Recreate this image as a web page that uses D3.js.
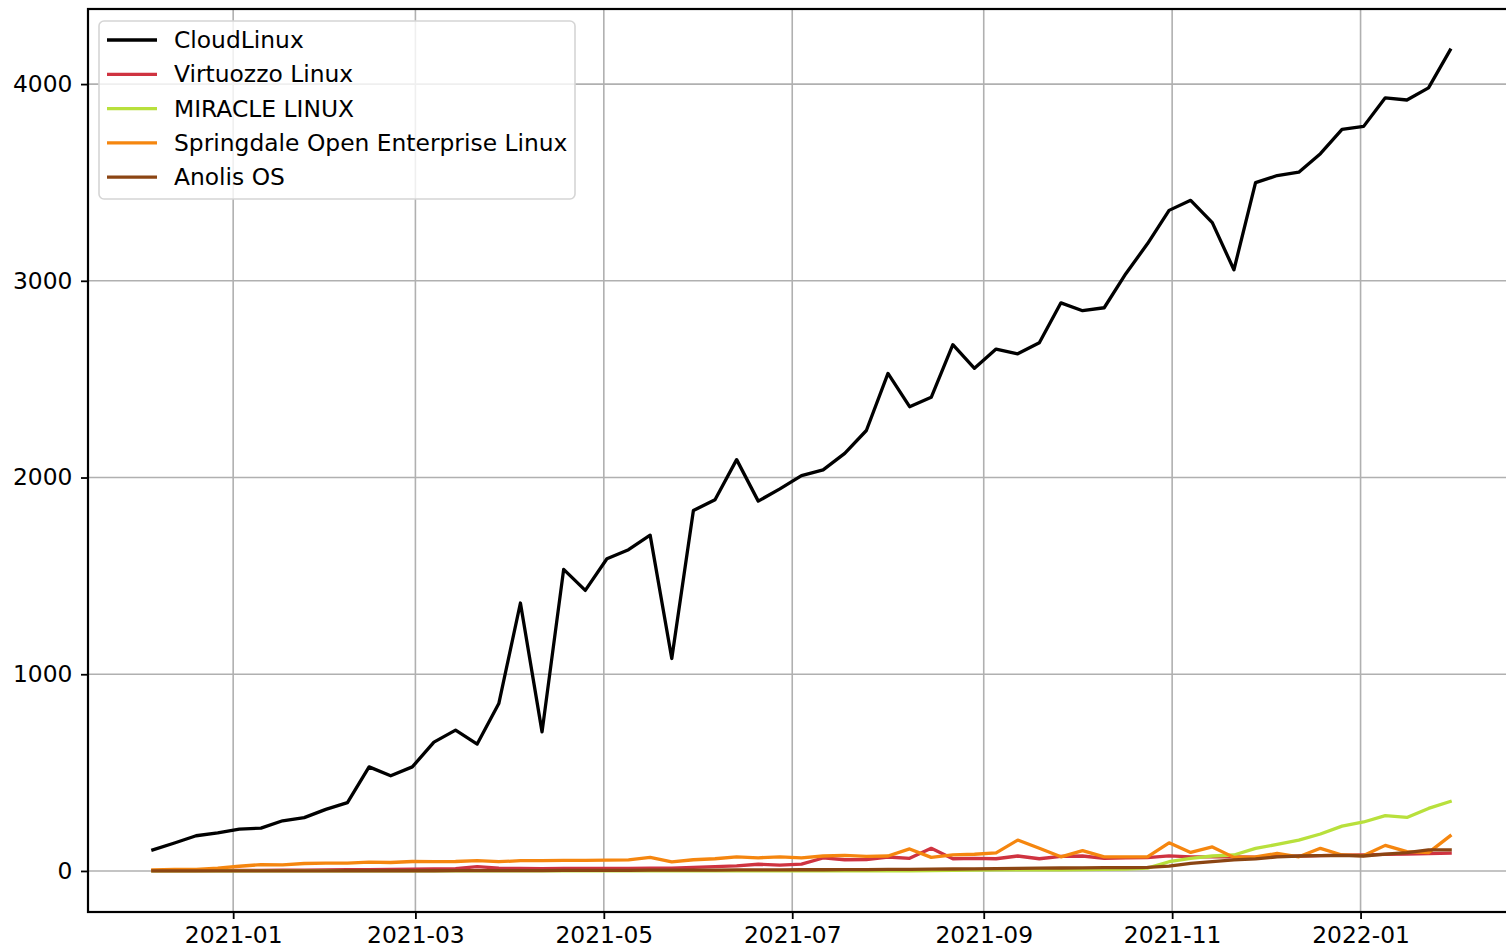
<!DOCTYPE html>
<html>
<head>
<meta charset="utf-8">
<script src="https://cdn.jsdelivr.net/npm/d3@7"></script>
<style>
  html, body { margin: 0; padding: 0; background: #fff; overflow: hidden; }
  svg { display: block; }
  text { font-family: "DejaVu Sans", sans-serif; }
</style>
</head>
<body>
<svg id="chart" width="1506" height="951"></svg>
<script>
// ---- data ----
const startDate = "2020-12-06";   // first weekly sample
const seriesNames = ["CloudLinux", "Virtuozzo Linux", "MIRACLE LINUX", "Springdale Open Enterprise Linux", "Anolis OS"];
const seriesColors = ["#000000", "#cf3340", "#b8e03c", "#f5860f", "#8b4513"];

const cloudLinux = [107,142,179,194,213,218,255,271,313,347,
  529,484,529,655,716,645,851,1362,707,1533,
  1426,1587,1633,1707,1080,1832,1887,2091,1880,1942,
  2010,2039,2123,2239,2529,2360,2408,2675,2555,2653,
  2629,2685,2888,2848,2863,3036,3188,3358,3409,3296,
  3056,3499,3535,3552,3646,3770,3785,3930,3919,3981,4173];
const virtuozzo = [2,2,2,3,3,3,4,4,5,6,
  7,8,9,10,12,22,14,13,12,13,
  13,13,13,14,14,18,22,26,34,30,
  35,66,57,58,71,64,115,62,64,62,
  76,62,74,76,64,66,68,77,72,72,
  72,70,74,75,78,80,82,84,86,88,90];
const miracle = [0,0,0,0,0,0,0,0,0,0,
  0,0,0,0,0,0,0,0,0,0,
  0,0,0,0,0,0,0,0,0,0,
  0,0,0,0,0,0,2,3,4,5,
  5,6,6,7,8,9,14,47,64,76,
  81,115,135,157,188,228,249,281,272,318,353];
const springdale = [5,8,8,14,24,32,31,38,40,40,
  45,43,48,47,48,53,47,52,53,54,
  54,55,56,69,46,57,62,72,67,72,
  67,76,79,74,76,112,69,82,85,92,
  157,115,72,103,72,72,72,143,94,122,
  69,72,89,72,115,81,78,130,98,93,178];
const anolis = [0,0,0,0,0,0,0,0,0,1,
  1,1,1,1,2,2,2,2,2,3,
  3,3,3,4,4,4,4,5,5,5,
  6,6,7,7,8,8,9,10,11,12,
  13,14,15,16,17,17,18,25,38,47,
  56,61,72,76,78,79,76,86,93,107,107];

const yTickValues = [0, 1000, 2000, 3000, 4000];
const xTickLabels = ["2021-01","2021-03","2021-05","2021-07","2021-09","2021-11","2022-01"];

// ---- build ----
const allSeries = [cloudLinux, virtuozzo, miracle, springdale, anolis];
const parse = d3.timeParse("%Y-%m-%d");
const t0 = parse(startDate);
const dates = cloudLinux.map((_, i) => d3.timeWeek.offset(t0, i));

const svg = d3.select("#chart");
const plot = { left: 88, top: 9, right: 1515, bottom: 912 };
const FONT = "22.6px";
const SX = 1.035; // slight horizontal stretch of glyphs as in the reference

// matplotlib-like 5% margins
const xExt = d3.extent(dates);
const xPad = (xExt[1] - xExt[0]) * 0.05;
const x = d3.scaleTime()
  .domain([new Date(+xExt[0] - xPad), new Date(+xExt[1] + xPad)])
  .range([plot.left, plot.right]);

const yMin = d3.min(allSeries, s => d3.min(s));
const yMax = d3.max(allSeries, s => d3.max(s));
const yPad = (yMax - yMin) * 0.05;
const y = d3.scaleLinear()
  .domain([yMin - yPad, yMax + yPad])
  .range([plot.bottom, plot.top]);

const xTickDates = xTickLabels.map(s => d3.timeParse("%Y-%m")(s));

// grid
const grid = svg.append("g").attr("class", "grid");
grid.selectAll("line.gx").data(xTickDates).enter().append("line")
  .attr("x1", d => x(d)).attr("x2", d => x(d))
  .attr("y1", plot.top).attr("y2", plot.bottom)
  .attr("stroke", "#b0b0b0").attr("stroke-width", 1.6);
grid.selectAll("line.gy").data(yTickValues).enter().append("line")
  .attr("x1", plot.left).attr("x2", plot.right)
  .attr("y1", d => y(d)).attr("y2", d => y(d))
  .attr("stroke", "#b0b0b0").attr("stroke-width", 1.6);

// clip
svg.append("clipPath").attr("id", "clip").append("rect")
  .attr("x", plot.left).attr("y", plot.top)
  .attr("width", plot.right - plot.left).attr("height", plot.bottom - plot.top);

const line = d3.line().x((d, i) => x(dates[i])).y(d => y(d));
const lines = svg.append("g").attr("clip-path", "url(#clip)");
allSeries.forEach((s, k) => {
  lines.append("path").datum(s)
    .attr("d", line)
    .attr("fill", "none")
    .attr("stroke", seriesColors[k])
    .attr("stroke-width", 3.3)
    .attr("stroke-linejoin", "round")
    .attr("stroke-linecap", "square");
});

// axes
const xAxis = d3.axisBottom(x).tickValues(xTickDates)
  .tickFormat((d, i) => xTickLabels[i]).tickSize(7).tickPadding(8);
const yAxis = d3.axisLeft(y).tickValues(yTickValues)
  .tickFormat(d3.format("d")).tickSize(7).tickPadding(8);

const gx = svg.append("g").attr("transform", `translate(0,${plot.bottom})`).call(xAxis);
const gy = svg.append("g").attr("transform", `translate(${plot.left},0)`).call(yAxis);
[gx, gy].forEach(g => {
  g.select(".domain").remove();
  g.selectAll(".tick line").attr("stroke", "#000").attr("stroke-width", 1.8);
  g.selectAll(".tick text").attr("fill", "#000")
    .attr("transform", `scale(${SX},1)`)
    .style("font-family", "'DejaVu Sans', sans-serif").style("font-size", FONT);
});

// spines
svg.append("rect")
  .attr("x", plot.left).attr("y", plot.top)
  .attr("width", plot.right - plot.left).attr("height", plot.bottom - plot.top)
  .attr("fill", "none").attr("stroke", "#000").attr("stroke-width", 2.2);

// legend
const leg = svg.append("g");
leg.append("rect")
  .attr("x", 99).attr("y", 21).attr("width", 476).attr("height", 178)
  .attr("rx", 5).attr("ry", 5)
  .attr("fill", "#fff").attr("fill-opacity", 0.8)
  .attr("stroke", "#d5d5d5").attr("stroke-width", 1.6);
seriesNames.forEach((name, k) => {
  const cy = 40 + k * 34.3;
  leg.append("line")
    .attr("x1", 107).attr("x2", 157).attr("y1", cy).attr("y2", cy)
    .attr("stroke", seriesColors[k]).attr("stroke-width", 3.3);
  leg.append("g").attr("transform", `translate(174,${cy})`)
    .append("text")
    .attr("transform", `scale(${SX},1)`)
    .attr("dy", "0.36em")
    .attr("fill", "#000")
    .style("font-size", FONT)
    .text(name);
});
</script>
</body>
</html>
